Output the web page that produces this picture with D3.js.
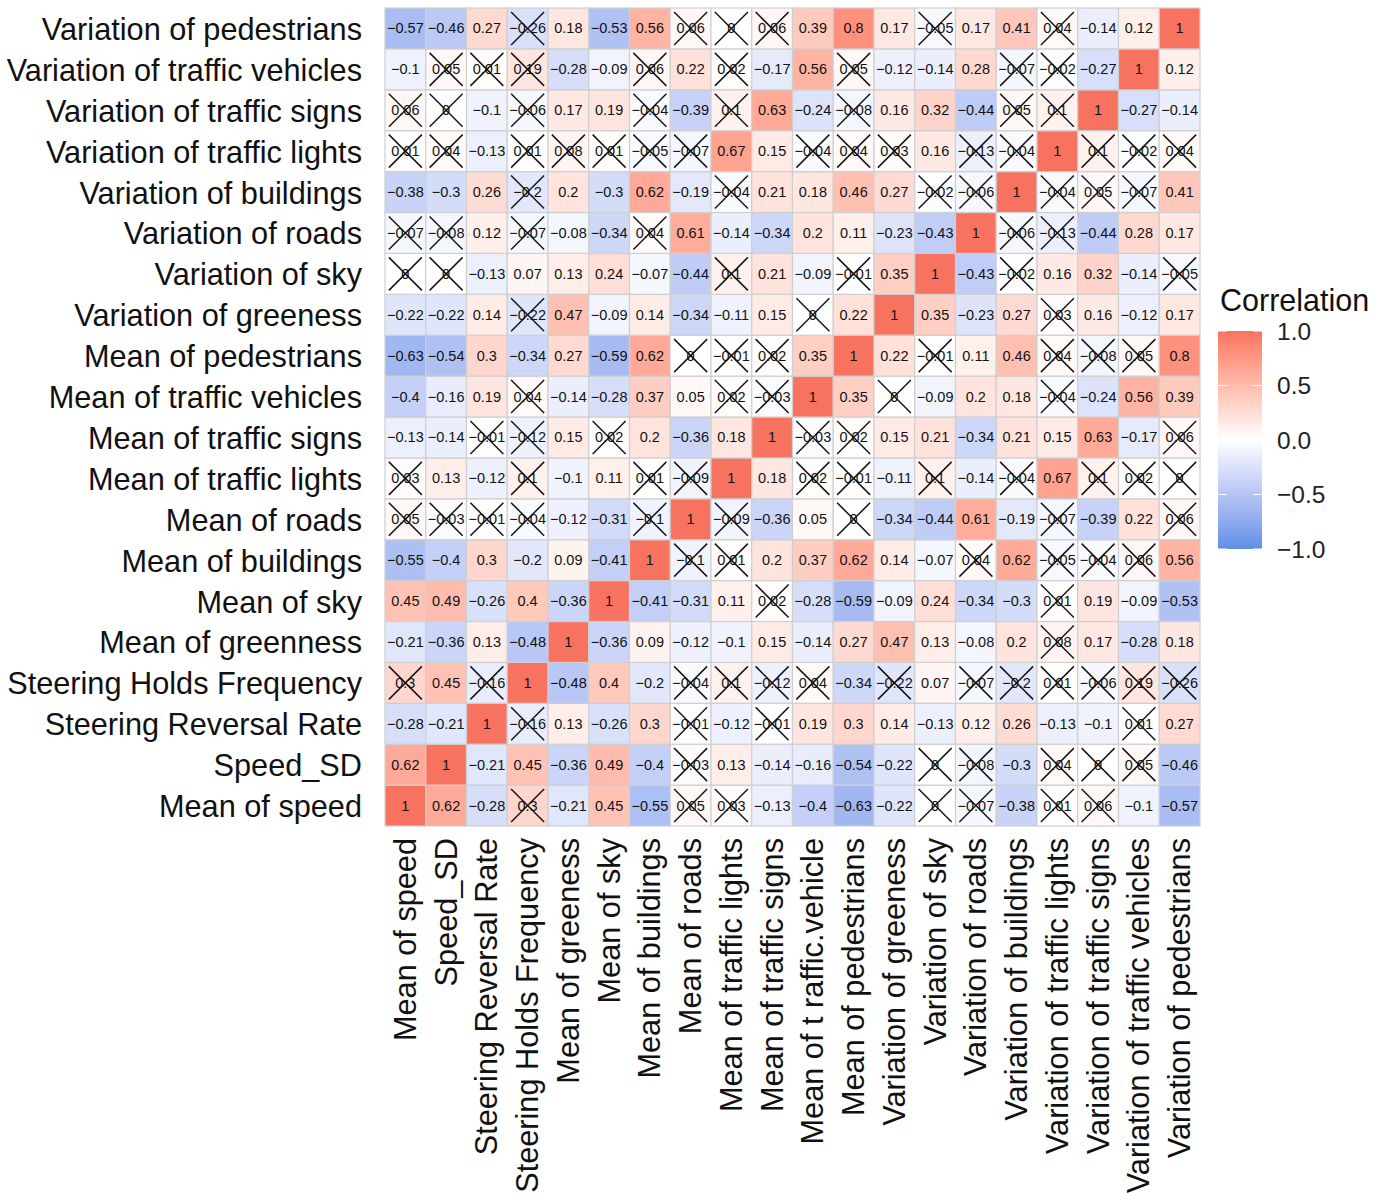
<!DOCTYPE html>
<html>
<head>
<meta charset="utf-8">
<script src="https://cdn.jsdelivr.net/npm/d3@7"></script>
<style>
  html, body { margin: 0; padding: 0; background: #fff; }
  svg { display: block; }
  text { font-family: "Liberation Sans", Arial, Helvetica, sans-serif; }
</style>
</head>
<body>
<svg id="chart" width="1384" height="1193"></svg>
<script>
// Variable names along the x axis (left to right) and y axis (bottom to top)
const xLabels = ["Mean of speed", "Speed_SD", "Steering Reversal Rate", "Steering Holds Frequency",
  "Mean of greeness", "Mean of sky", "Mean of buildings", "Mean of roads", "Mean of traffic lights",
  "Mean of traffic signs", "Mean of t raffic.vehicle", "Mean of pedestrians", "Variation of greeness",
  "Variation of sky", "Variation of roads", "Variation of buildings", "Variation of traffic lights",
  "Variation of traffic signs", "Variation of traffic vehicles", "Variation of pedestrians"];
const yLabels = ["Mean of speed", "Speed_SD", "Steering Reversal Rate", "Steering Holds Frequency",
  "Mean of greenness", "Mean of sky", "Mean of buildings", "Mean of roads", "Mean of traffic lights",
  "Mean of traffic signs", "Mean of traffic vehicles", "Mean of pedestrians", "Variation of greeness",
  "Variation of sky", "Variation of roads", "Variation of buildings", "Variation of traffic lights",
  "Variation of traffic signs", "Variation of traffic vehicles", "Variation of pedestrians"];

// Correlation matrix, row i / column j in the variable order above
const corr = [
  [1, 0.62, -0.28, 0.3, -0.21, 0.45, -0.55, 0.05, 0.03, -0.13, -0.4, -0.63, -0.22, 0, -0.07, -0.38, 0.01, 0.06, -0.1, -0.57],
  [0.62, 1, -0.21, 0.45, -0.36, 0.49, -0.4, -0.03, 0.13, -0.14, -0.16, -0.54, -0.22, 0, -0.08, -0.3, 0.04, 0, 0.05, -0.46],
  [-0.28, -0.21, 1, -0.16, 0.13, -0.26, 0.3, -0.01, -0.12, -0.01, 0.19, 0.3, 0.14, -0.13, 0.12, 0.26, -0.13, -0.1, 0.01, 0.27],
  [0.3, 0.45, -0.16, 1, -0.48, 0.4, -0.2, -0.04, 0.1, -0.12, 0.04, -0.34, -0.22, 0.07, -0.07, -0.2, 0.01, -0.06, 0.19, -0.26],
  [-0.21, -0.36, 0.13, -0.48, 1, -0.36, 0.09, -0.12, -0.1, 0.15, -0.14, 0.27, 0.47, 0.13, -0.08, 0.2, 0.08, 0.17, -0.28, 0.18],
  [0.45, 0.49, -0.26, 0.4, -0.36, 1, -0.41, -0.31, 0.11, 0.02, -0.28, -0.59, -0.09, 0.24, -0.34, -0.3, 0.01, 0.19, -0.09, -0.53],
  [-0.55, -0.4, 0.3, -0.2, 0.09, -0.41, 1, -0.1, 0.01, 0.2, 0.37, 0.62, 0.14, -0.07, 0.04, 0.62, -0.05, -0.04, 0.06, 0.56],
  [0.05, -0.03, -0.01, -0.04, -0.12, -0.31, -0.1, 1, -0.09, -0.36, 0.05, 0, -0.34, -0.44, 0.61, -0.19, -0.07, -0.39, 0.22, 0.06],
  [0.03, 0.13, -0.12, 0.1, -0.1, 0.11, 0.01, -0.09, 1, 0.18, 0.02, -0.01, -0.11, 0.1, -0.14, -0.04, 0.67, 0.1, 0.02, 0],
  [-0.13, -0.14, -0.01, -0.12, 0.15, 0.02, 0.2, -0.36, 0.18, 1, -0.03, 0.02, 0.15, 0.21, -0.34, 0.21, 0.15, 0.63, -0.17, 0.06],
  [-0.4, -0.16, 0.19, 0.04, -0.14, -0.28, 0.37, 0.05, 0.02, -0.03, 1, 0.35, 0, -0.09, 0.2, 0.18, -0.04, -0.24, 0.56, 0.39],
  [-0.63, -0.54, 0.3, -0.34, 0.27, -0.59, 0.62, 0, -0.01, 0.02, 0.35, 1, 0.22, -0.01, 0.11, 0.46, 0.04, -0.08, 0.05, 0.8],
  [-0.22, -0.22, 0.14, -0.22, 0.47, -0.09, 0.14, -0.34, -0.11, 0.15, 0, 0.22, 1, 0.35, -0.23, 0.27, 0.03, 0.16, -0.12, 0.17],
  [0, 0, -0.13, 0.07, 0.13, 0.24, -0.07, -0.44, 0.1, 0.21, -0.09, -0.01, 0.35, 1, -0.43, -0.02, 0.16, 0.32, -0.14, -0.05],
  [-0.07, -0.08, 0.12, -0.07, -0.08, -0.34, 0.04, 0.61, -0.14, -0.34, 0.2, 0.11, -0.23, -0.43, 1, -0.06, -0.13, -0.44, 0.28, 0.17],
  [-0.38, -0.3, 0.26, -0.2, 0.2, -0.3, 0.62, -0.19, -0.04, 0.21, 0.18, 0.46, 0.27, -0.02, -0.06, 1, -0.04, 0.05, -0.07, 0.41],
  [0.01, 0.04, -0.13, 0.01, 0.08, 0.01, -0.05, -0.07, 0.67, 0.15, -0.04, 0.04, 0.03, 0.16, -0.13, -0.04, 1, 0.1, -0.02, 0.04],
  [0.06, 0, -0.1, -0.06, 0.17, 0.19, -0.04, -0.39, 0.1, 0.63, -0.24, -0.08, 0.16, 0.32, -0.44, 0.05, 0.1, 1, -0.27, -0.14],
  [-0.1, 0.05, 0.01, 0.19, -0.28, -0.09, 0.06, 0.22, 0.02, -0.17, 0.56, 0.05, -0.12, -0.14, 0.28, -0.07, -0.02, -0.27, 1, 0.12],
  [-0.57, -0.46, 0.27, -0.26, 0.18, -0.53, 0.56, 0.06, 0, 0.06, 0.39, 0.8, 0.17, -0.05, 0.17, 0.41, 0.04, -0.14, 0.12, 1]
];

// Column indices of non-significant coefficients in each row (crossed out)
const insignificant = [
  [3, 7, 8, 13, 14, 16, 17],
  [7, 13, 14, 16, 17, 18],
  [3, 7, 9, 18],
  [0, 2, 7, 8, 9, 10, 12, 14, 15, 16, 17, 18, 19],
  [16],
  [9, 16],
  [7, 8, 14, 16, 17, 18],
  [0, 1, 2, 3, 6, 8, 11, 16, 19],
  [0, 3, 6, 7, 10, 11, 13, 15, 17, 18, 19],
  [2, 3, 5, 10, 11, 19],
  [3, 8, 9, 12, 16],
  [7, 8, 9, 13, 16, 17, 18],
  [3, 10, 16],
  [0, 1, 8, 11, 15, 19],
  [0, 1, 3, 6, 15, 16],
  [3, 8, 13, 14, 16, 17, 18],
  [0, 1, 3, 4, 5, 6, 7, 10, 11, 12, 14, 15, 17, 18, 19],
  [0, 1, 3, 6, 8, 11, 15, 16],
  [1, 2, 3, 6, 8, 11, 15, 16],
  [3, 7, 8, 9, 13, 16]
];

const legendTicks = [1.0, 0.5, 0.0, -0.5, -1.0];
const legendTitle = "Correlation";

const svg = d3.select("#chart");
const idx = d3.range(xLabels.length);

const gridLeft = 385, gridRight = 1200, gridTop = 8, gridBottom = 826;
const x = d3.scaleBand().domain(idx).range([gridLeft, gridRight]).padding(0);
const y = d3.scaleBand().domain(idx).range([gridBottom, gridTop]).padding(0);

const lowCol = "#5F8FE8", midCol = "#FFFFFF", highCol = "#F8735F";
const color = d3.scaleLinear().domain([-1, 0, 1]).range([lowCol, midCol, highCol])
  .interpolate(d3.interpolateLab).clamp(true);

const fmt = v => String(+v.toFixed(2)).replace("-", "\u2212");

const cells = [];
corr.forEach((row, i) => row.forEach((v, j) => {
  cells.push({ i, j, v, ns: insignificant[i].includes(j) });
}));

const g = svg.append("g");
const cell = g.selectAll("g.cell").data(cells).join("g").attr("class", "cell");

cell.append("rect")
  .attr("x", d => x(d.j)).attr("y", d => y(d.i))
  .attr("width", x.bandwidth()).attr("height", y.bandwidth())
  .attr("fill", d => color(d.v))
  .attr("stroke", "#cfcfcf").attr("stroke-width", 1.2);

cell.append("text")
  .attr("x", d => x(d.j) + x.bandwidth() / 2)
  .attr("y", d => y(d.i) + y.bandwidth() / 2)
  .attr("text-anchor", "middle").attr("dominant-baseline", "central")
  .attr("font-size", 14.5).attr("fill", "#111")
  .text(d => fmt(d.v));

// cross for non-significant coefficients
const half = 16.5;
cell.filter(d => d.ns).each(function(d) {
  const cx = x(d.j) + x.bandwidth() / 2, cy = y(d.i) + y.bandwidth() / 2;
  const s = d3.select(this);
  s.append("line").attr("x1", cx - half).attr("y1", cy - half).attr("x2", cx + half).attr("y2", cy + half);
  s.append("line").attr("x1", cx - half).attr("y1", cy + half).attr("x2", cx + half).attr("y2", cy - half);
  s.selectAll("line").attr("stroke", "#111").attr("stroke-width", 1.5);
});

// y axis labels
svg.append("g").selectAll("text").data(idx).join("text")
  .attr("x", 362).attr("y", d => y(d) + y.bandwidth() / 2 + 1)
  .attr("text-anchor", "end").attr("dominant-baseline", "central")
  .attr("font-size", 30.7).attr("fill", "#111")
  .text(d => yLabels[d]);

// x axis labels, rotated
svg.append("g").selectAll("text").data(idx).join("text")
  .attr("transform", d => `translate(${x(d) + x.bandwidth() / 2},838) rotate(-90)`)
  .attr("text-anchor", "end").attr("dominant-baseline", "central")
  .attr("font-size", 30.7).attr("fill", "#111")
  .text(d => xLabels[d]);

// colour bar legend
const lg = svg.append("g");
const barX = 1218, barW = 44;
const ly = d3.scaleLinear().domain([-1, 1]).range([549, 331]);
const grad = svg.append("defs").append("linearGradient")
  .attr("id", "corrGrad").attr("x1", 0).attr("x2", 0).attr("y1", 1).attr("y2", 0);
d3.range(0, 1.0001, 0.02).forEach(t => {
  grad.append("stop").attr("offset", t).attr("stop-color", color(-1 + 2 * t));
});
lg.append("text").attr("x", 1220).attr("y", 311).attr("font-size", 30.5).attr("fill", "#111").text(legendTitle);
lg.append("rect").attr("x", barX).attr("y", ly(1)).attr("width", barW).attr("height", ly(-1) - ly(1))
  .attr("fill", "url(#corrGrad)");
legendTicks.forEach(t => {
  lg.append("line").attr("x1", barX).attr("x2", barX + 9).attr("y1", ly(t)).attr("y2", ly(t))
    .attr("stroke", "#fff").attr("stroke-width", 1);
  lg.append("line").attr("x1", barX + barW - 9).attr("x2", barX + barW).attr("y1", ly(t)).attr("y2", ly(t))
    .attr("stroke", "#fff").attr("stroke-width", 1);
});
lg.selectAll("text.tick").data(legendTicks).join("text").attr("class", "tick")
  .attr("x", 1277).attr("y", d => ly(d)).attr("dominant-baseline", "central")
  .attr("font-size", 24.5).attr("fill", "#222")
  .text(d => d3.format(".1f")(d).replace("-", "\u2212"));
</script>
</body>
</html>
